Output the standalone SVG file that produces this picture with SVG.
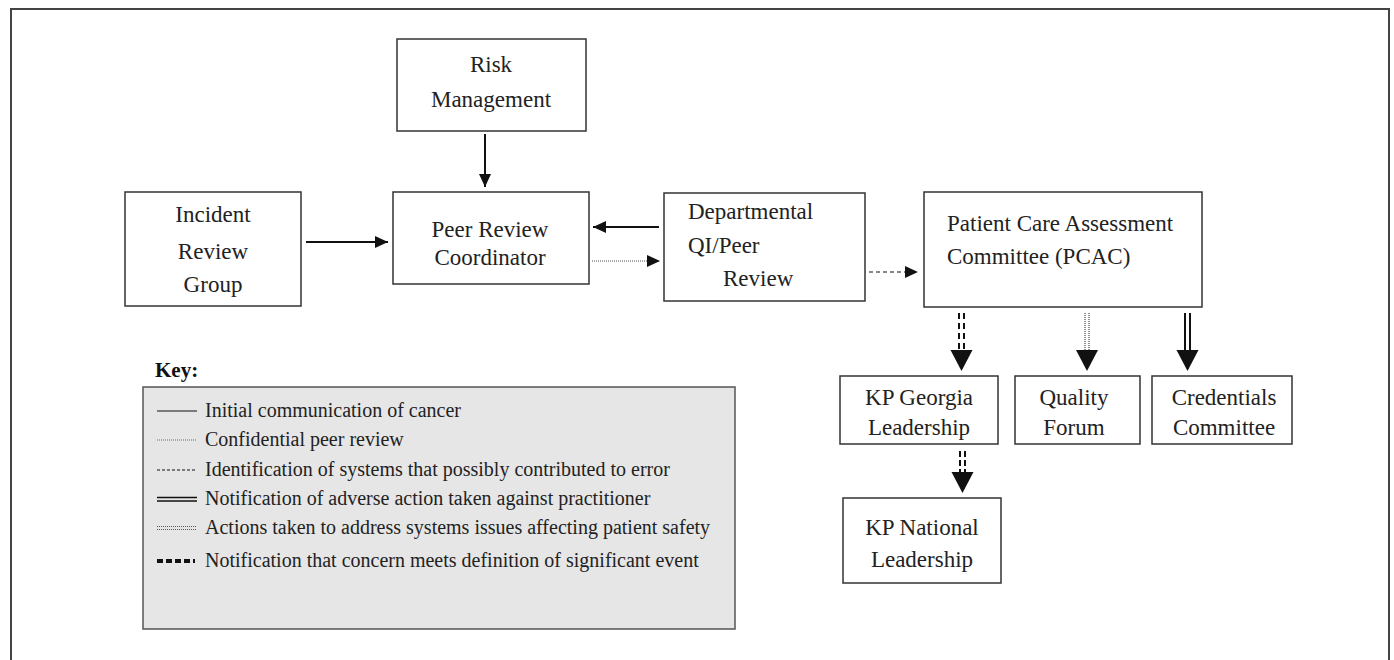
<svg xmlns="http://www.w3.org/2000/svg" width="1394" height="660" viewBox="0 0 1394 660">
  <style>
    .box { fill: #ffffff; stroke: #333333; stroke-width: 1.5; }
    .t { font-family: "Liberation Serif", "Times New Roman", serif; font-size: 23px; fill: #222222; }
    .tc { text-anchor: middle; }
    .k { font-family: "Liberation Serif", "Times New Roman", serif; font-size: 20px; fill: #222222; }
    .solid { stroke: #111111; stroke-width: 2; fill: none; }
    .dotted { stroke: #555555; stroke-width: 1; stroke-dasharray: 1 1; fill: none; }
    .dashed { stroke: #111111; stroke-width: 1.2; stroke-dasharray: 4 3; fill: none; }
    .head { fill: #111111; }
  </style>
  <defs>
    <marker id="arr" markerUnits="userSpaceOnUse" markerWidth="14" markerHeight="14" refX="13" refY="6" orient="auto">
      <path d="M0,0 L13,6 L0,12 z" class="head"/>
    </marker>
    <path id="bighead" d="M-11,-21 L11,-21 L0,0 z" class="head"/>
  </defs>

  <rect x="11" y="9" width="1378" height="700" fill="none" stroke="#444444" stroke-width="2"/>

  <g id="risk-management">
    <rect class="box" x="397" y="39" width="189" height="92"/>
    <text class="t tc" x="491" y="72">Risk</text>
    <text class="t tc" x="491" y="107">Management</text>
  </g>
  <g id="incident-review-group">
    <rect class="box" x="125" y="192" width="176" height="114"/>
    <text class="t tc" x="213" y="222">Incident</text>
    <text class="t tc" x="213" y="259">Review</text>
    <text class="t tc" x="213" y="292">Group</text>
  </g>
  <g id="peer-review-coordinator">
    <rect class="box" x="393" y="192" width="196" height="92"/>
    <text class="t tc" x="490" y="237">Peer Review</text>
    <text class="t tc" x="490" y="265">Coordinator</text>
  </g>
  <g id="departmental-qi">
    <rect class="box" x="664" y="193" width="201" height="108"/>
    <text class="t" x="688" y="219">Departmental</text>
    <text class="t" x="688" y="253">QI/Peer</text>
    <text class="t" x="723" y="286">Review</text>
  </g>
  <g id="pcac">
    <rect class="box" x="924" y="192" width="278" height="115"/>
    <text class="t" x="947" y="231" font-size="21.5">Patient Care Assessment</text>
    <text class="t" x="947" y="264" font-size="21.5">Committee (PCAC)</text>
  </g>
  <g id="kp-georgia">
    <rect class="box" x="840" y="376" width="158" height="68"/>
    <text class="t tc" x="919" y="405">KP Georgia</text>
    <text class="t tc" x="919" y="435">Leadership</text>
  </g>
  <g id="quality-forum">
    <rect class="box" x="1015" y="376" width="125" height="68"/>
    <text class="t tc" x="1074" y="405">Quality</text>
    <text class="t tc" x="1074" y="435">Forum</text>
  </g>
  <g id="credentials-committee">
    <rect class="box" x="1152" y="376" width="140" height="68"/>
    <text class="t tc" x="1224" y="405">Credentials</text>
    <text class="t tc" x="1224" y="435">Committee</text>
  </g>
  <g id="kp-national">
    <rect class="box" x="843" y="498" width="158" height="85"/>
    <text class="t tc" x="922" y="535">KP National</text>
    <text class="t tc" x="922" y="567">Leadership</text>
  </g>

  <g id="connectors">
    <line class="solid" x1="485" y1="134" x2="485" y2="187" marker-end="url(#arr)"/>
    <line class="solid" x1="306" y1="242" x2="388" y2="242" marker-end="url(#arr)"/>
    <line class="solid" x1="659" y1="227" x2="593" y2="227" marker-end="url(#arr)"/>
    <line class="dotted" x1="592" y1="261" x2="660" y2="261" marker-end="url(#arr)"/>
    <line class="dashed" x1="869" y1="272" x2="918" y2="272" marker-end="url(#arr)"/>

    <!-- PCAC -> KP Georgia: double heavy dashes -->
    <line x1="959" y1="313" x2="959" y2="350" stroke="#111" stroke-width="2" stroke-dasharray="6 4"/>
    <line x1="964" y1="313" x2="964" y2="350" stroke="#111" stroke-width="2" stroke-dasharray="6 4"/>
    <use href="#bighead" x="961.5" y="371"/>
    <!-- PCAC -> Quality Forum: double dotted -->
    <line x1="1085" y1="313" x2="1085" y2="351" stroke="#444" stroke-width="1.2" stroke-dasharray="1 1"/>
    <line x1="1089" y1="313" x2="1089" y2="351" stroke="#444" stroke-width="1.2" stroke-dasharray="1 1"/>
    <use href="#bighead" x="1087" y="371"/>
    <!-- PCAC -> Credentials: double solid -->
    <line x1="1185" y1="313" x2="1185" y2="351" stroke="#111" stroke-width="2"/>
    <line x1="1190" y1="313" x2="1190" y2="351" stroke="#111" stroke-width="2"/>
    <use href="#bighead" x="1187.5" y="371"/>
    <!-- KP Georgia -> KP National -->
    <line x1="960" y1="451" x2="960" y2="473" stroke="#111" stroke-width="2" stroke-dasharray="6 3"/>
    <line x1="965" y1="451" x2="965" y2="473" stroke="#111" stroke-width="2" stroke-dasharray="6 3"/>
    <use href="#bighead" x="962.5" y="493"/>
  </g>

  <g id="key">
    <text x="155" y="377" font-family="Liberation Serif, serif" font-size="21" font-weight="bold" fill="#111">Key:</text>
    <rect x="143" y="387" width="592" height="242" fill="#e6e6e6" stroke="#555555" stroke-width="1.5"/>
    <line x1="157" y1="411" x2="197" y2="411" stroke="#111" stroke-width="1.2"/>
    <text class="k" x="205" y="417">Initial communication of cancer</text>
    <line x1="157" y1="440" x2="197" y2="440" stroke="#666" stroke-width="1" stroke-dasharray="1 1"/>
    <text class="k" x="205" y="446">Confidential peer review</text>
    <line x1="157" y1="470" x2="197" y2="470" stroke="#111" stroke-width="1" stroke-dasharray="3 2"/>
    <text class="k" x="205" y="476">Identification of systems that possibly contributed to error</text>
    <line x1="157" y1="497.5" x2="197" y2="497.5" stroke="#111" stroke-width="1.3"/>
    <line x1="157" y1="501" x2="197" y2="501" stroke="#111" stroke-width="1.3"/>
    <text class="k" x="205" y="505">Notification of adverse action taken against practitioner</text>
    <line x1="157" y1="526.5" x2="197" y2="526.5" stroke="#555" stroke-width="1" stroke-dasharray="1 1"/>
    <line x1="157" y1="529.5" x2="197" y2="529.5" stroke="#555" stroke-width="1" stroke-dasharray="1 1"/>
    <text class="k" x="205" y="534">Actions taken to address systems issues affecting patient safety</text>
    <line x1="157" y1="561" x2="195" y2="561" stroke="#111" stroke-width="4" stroke-dasharray="6 3"/>
    <text class="k" x="205" y="567">Notification that concern meets definition of significant event</text>
  </g>
</svg>
